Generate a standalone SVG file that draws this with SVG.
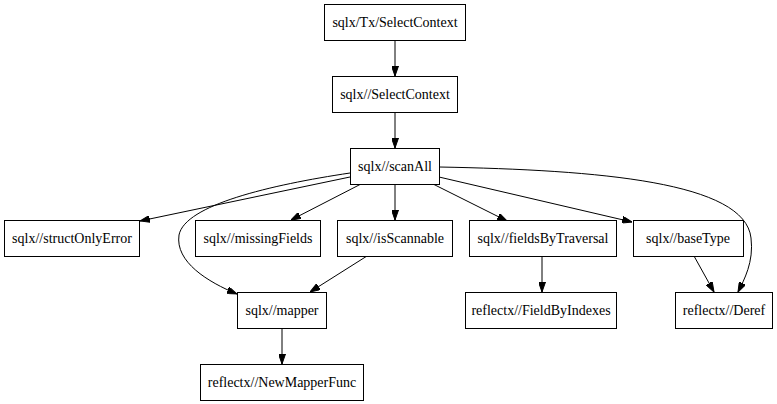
<svg xmlns="http://www.w3.org/2000/svg" width="777" height="404" viewBox="0 0 777 404">
<style>
rect{fill:#fff;stroke:#000;stroke-width:1}
text{font-family:"Liberation Serif","Times New Roman",serif;font-size:14px;text-anchor:middle;fill:#000}
.e{fill:none;stroke:#000;stroke-width:1;marker-end:url(#a)}
</style>
<defs>
<marker id="a" viewBox="0 0 10 7" refX="10" refY="3.5" markerWidth="10" markerHeight="7" orient="auto" markerUnits="userSpaceOnUse">
<path d="M0,0 L10,3.5 L0,7 z" fill="#000" stroke="#000"/>
</marker>
</defs>
<rect x="0" y="0" width="777" height="404" style="fill:#fff;stroke:none"/>
<g id="edges">
<path class="e" d="M395,40 L395,76"/>
<path class="e" d="M395,112 L395,148"/>
<path class="e" d="M350,177 L140,221"/>
<path class="e" d="M350,173 C270,185 185,205 179,235 C175,262 208,282 237,294"/>
<path class="e" d="M361,184 L291,220"/>
<path class="e" d="M395,184 L395,220"/>
<path class="e" d="M433,184 L507,221"/>
<path class="e" d="M439,177 L632,222"/>
<path class="e" d="M439,167 C600,170 745,182 751,238 C754,262 744,280 738,292"/>
<path class="e" d="M367,256 L310,292"/>
<path class="e" d="M542,256 L542,292"/>
<path class="e" d="M694,256 L714,292"/>
<path class="e" d="M282,328 L282,364"/>
</g>
<g id="n_tx"><rect x="324.5" y="4.5" width="141" height="36"/><text x="395" y="27">sqlx/Tx/SelectContext</text></g>
<g id="n_sc"><rect x="332.5" y="76.5" width="125" height="36"/><text x="395" y="99">sqlx//SelectContext</text></g>
<g id="n_scanall"><rect x="350.5" y="148.5" width="89" height="36"/><text x="395" y="171">sqlx//scanAll</text></g>
<g id="n_structonly"><rect x="4.5" y="220.5" width="135" height="36"/><text x="72" y="243">sqlx//structOnlyError</text></g>
<g id="n_missing"><rect x="195.5" y="220.5" width="125" height="36"/><text x="258" y="243">sqlx//missingFields</text></g>
<g id="n_isscan"><rect x="337.5" y="220.5" width="115" height="36"/><text x="395" y="243">sqlx//isScannable</text></g>
<g id="n_fields"><rect x="469.5" y="220.5" width="147" height="36"/><text x="543" y="243">sqlx//fieldsByTraversal</text></g>
<g id="n_basetype"><rect x="633.5" y="220.5" width="110" height="36"/><text x="688" y="243">sqlx//baseType</text></g>
<g id="n_mapper"><rect x="237.5" y="292.5" width="89" height="36"/><text x="282" y="315">sqlx//mapper</text></g>
<g id="n_fbi"><rect x="465.5" y="292.5" width="151" height="36"/><text x="541" y="315">reflectx//FieldByIndexes</text></g>
<g id="n_deref"><rect x="675.5" y="292.5" width="97" height="36"/><text x="724" y="315">reflectx//Deref</text></g>
<g id="n_nmf"><rect x="200.5" y="364.5" width="163" height="36"/><text x="282" y="387">reflectx//NewMapperFunc</text></g>
</svg>
